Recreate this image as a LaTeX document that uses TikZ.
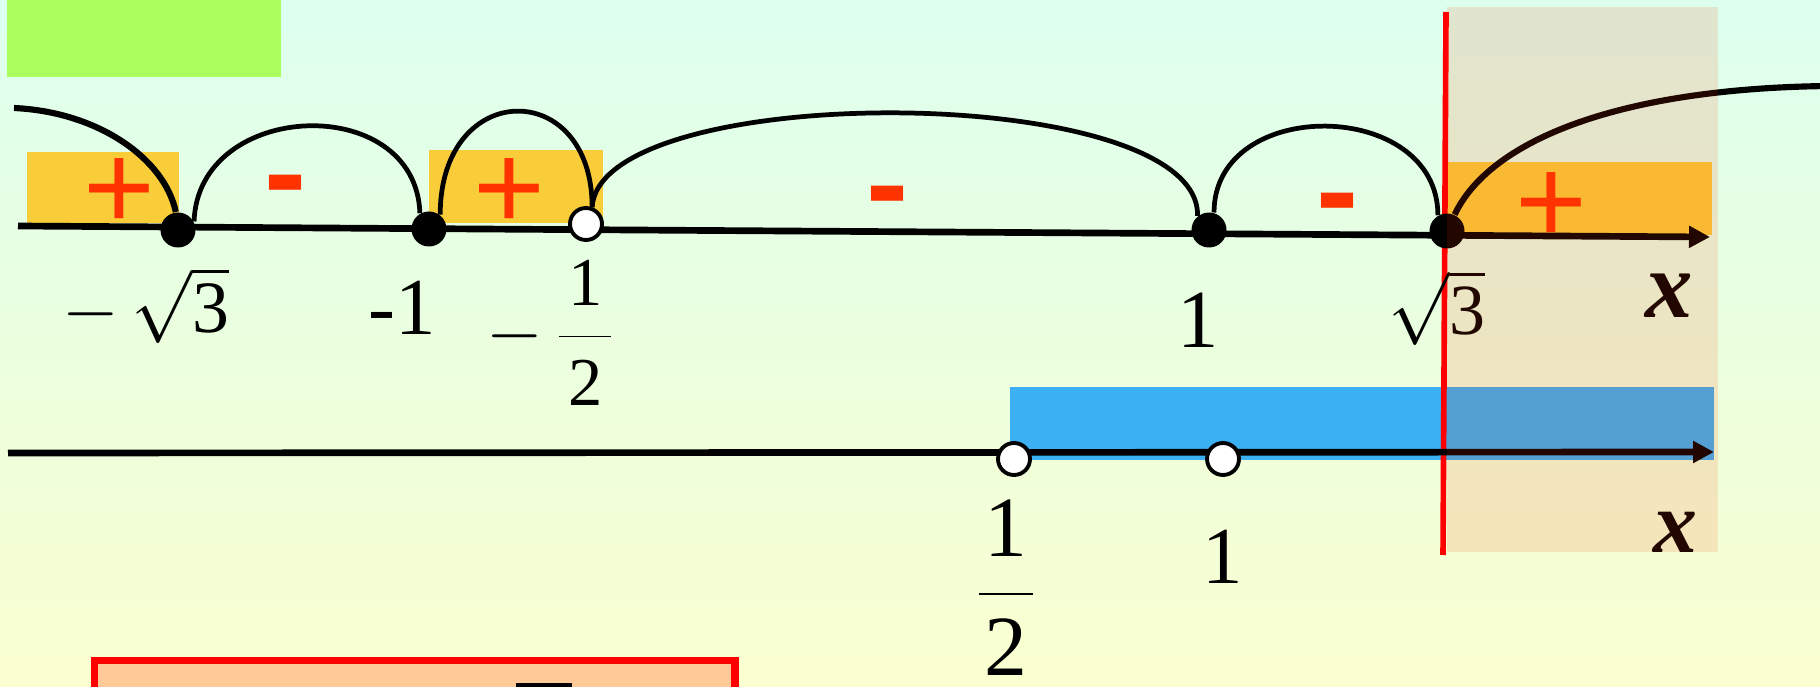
\documentclass[tikz,border=0pt]{standalone}
\usepackage{fontspec}
\setmainfont{Liberation Serif}
\newfontfamily\signfont{Liberation Sans}
\usetikzlibrary{arrows.meta}
\definecolor{bgtop}{RGB}{220,255,238}
\definecolor{bgbot}{RGB}{250,255,208}
\definecolor{limegreen}{RGB}{170,255,95}
\definecolor{signbox}{RGB}{249,204,58}
\definecolor{signred}{RGB}{255,51,0}
\definecolor{skyblue}{RGB}{59,176,243}
\definecolor{tintcol}{RGB}{255,60,0}
\definecolor{peach}{RGB}{255,202,152}
\begin{document}
\begin{tikzpicture}[x=0.1mm,y=-0.1mm,
  axisline/.style={line width=1.9pt,-{Triangle[length=2.1mm,width=2.1mm]}},
  arcline/.style={line width=1.35pt},
  thickcurve/.style={line width=1.75pt},
  fulldot/.style={circle,fill=black,minimum size=3.5mm,inner sep=0pt},
  opendot/.style={circle,fill=white,draw=black,line width=1.1pt,minimum size=3.2mm,inner sep=0pt},
  plussign/.style={text=signred,font=\signfont\fontsize{35}{35}\selectfont,inner sep=0pt,anchor=base},
  minussign/.style={text=signred,font=\signfont\bfseries\fontsize{36}{36}\selectfont,inner sep=0pt,anchor=base},
  lab/.style={inner sep=0pt,anchor=base},
]
\clip (0,0) rectangle (1820,687);
\shade[top color=bgtop,bottom color=bgbot] (0,0) rectangle (1820,687);

% green box
\fill[limegreen] (7,0) rectangle (281,77);

% sign boxes
\fill[signbox] (27,152) rectangle (179,223);
\fill[signbox] (429,150) rectangle (603,223);
\fill[signbox] (1447,162) rectangle (1712,235);
\fill[skyblue] (1010,387) rectangle (1714,460);

% red vertical line
\draw[red,line width=1.6pt] (1446,12) -- (1443,555);

% bottom box
\draw[red,line width=2pt,fill=peach] (94.5,660.5) rectangle (735,740);
\fill[black] (516,683) rectangle (572,692);

% top axis
\coordinate (ta0) at (18,226);
\coordinate (ta1) at (1710,237);
\draw[axisline] (ta0) -- (ta1);

% bottom axis
\coordinate (ba0) at (8,453);
\coordinate (ba1) at (1714,452);
\draw[axisline] (ba0) -- (ba1);

% dots top
\node[fulldot] (d1) at (178,230) {};
\node[fulldot] (d2) at (429,229) {};
\node[opendot] (o3) at (586,224) {};
\node[fulldot] (d4) at (1209,230) {};
\node[fulldot] (d5) at (1447,231) {};

% curves
\coordinate (lstart) at (14,108);
\coordinate (rend) at (1830,86);
\draw[thickcurve] (lstart) .. controls (100,112) and (165,160) .. (d1.97);
\draw[arcline] (d1.28) .. controls +(4,-122) and +(-4,-122) .. (d2.120);
\draw[arcline] (d2.52) .. controls +(0,-136) and +(0,-130) .. (o3.70);
\draw[arcline] (o3.70) .. controls +(8,-128) and +(3,-135) .. (d4.129);
\draw[arcline] (d4.74) .. controls +(0,-117) and +(0,-117) .. (d5.120);
\draw[thickcurve] (d5.65) .. controls (1490,140) and (1620,88) .. (rend);

% dots bottom
\node[opendot] (b1) at (1014,459) {};
\node[opendot] (b2) at (1223,459) {};

% signs
\node[plussign] (p1) at (119,230) {+};
\node[plussign] (p2) at (509,230) {+};
\node[plussign] (p3) at (1551,244) {+};
\node[minussign] (m1) at (286,216) {-};
\node[minussign] (m2) at (888,227) {-};
\node[minussign] (m3) at (1338,234) {-};

% labels top
\node[lab,font=\fontsize{21}{21}\selectfont] (l1) at (146,333) {$-\,\sqrt{\mbox{3}}$};
\node[lab,font=\fontsize{23}{23}\selectfont] (l2) at (402,335) {-1};
\node[lab,font=\fontsize{19.5}{19.5}\selectfont] (l3) at (551,355) {$\displaystyle -\,\frac{\kern.13em\mbox{1}\kern.13em}{\rule{0pt}{0.93em}\kern.13em\mbox{2}\kern.13em}$};
\node[lab,font=\fontsize{23.5}{23.5}\selectfont] (l4) at (1198,348) {1};
\node[lab,font=\fontsize{20.5}{20.5}\selectfont] (l5) at (1437,335) {$\sqrt{\mbox{3}}$};
\node[lab,font=\fontsize{27}{27}\selectfont\bfseries\itshape] (lx1) at (1669,318) {x};

% labels bottom
\node[lab,font=\fontsize{24.4}{24.4}\selectfont] (k1) at (1006,616) {$\displaystyle\frac{\kern.06em\mbox{1}\kern.06em}{\rule{0pt}{0.886em}\kern.06em\mbox{2}\kern.06em}$};
\node[lab,font=\fontsize{23}{23}\selectfont] (k2) at (1223,583) {1};
\node[lab,font=\fontsize{25}{25}\selectfont\bfseries\itshape] (lx2) at (1675,552) {x};

% tinted overlay
\fill[tintcol,opacity=0.13] (1447,7) rectangle (1718,552);
\end{tikzpicture}
\end{document}
